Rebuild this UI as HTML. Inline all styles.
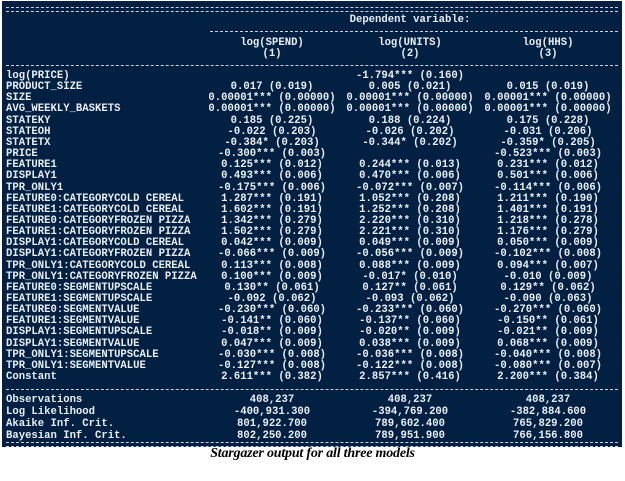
<!DOCTYPE html>
<html><head><meta charset="utf-8"><style>
body{margin:0;width:625px;height:481px;background:#fff;position:relative;overflow:hidden}
#panel{position:absolute;left:2px;top:1px;width:620px;height:446px;background:#022142;overflow:hidden}
.t{position:absolute;font-family:"Liberation Mono",monospace;font-weight:bold;font-size:10.6px;color:#e8eef5;white-space:pre;line-height:11px}
.c{transform:translateX(-50%)}
.rule{position:absolute;height:0;border-top:1px dashed #c8d2de}
.rule2{position:absolute;height:3px;border-top:1px dashed #c8d2de;border-bottom:1px dashed #c8d2de}
#cap{position:absolute;left:0;width:625px;top:446px;text-align:center;font-family:"Liberation Serif",serif;font-style:italic;font-weight:bold;font-size:14px;color:#000;letter-spacing:-0.2px}
</style></head><body>
<div id="panel">
<div class="rule2" style="left:4px;width:612px;top:6px"></div>
<div class="t c" style="left:408px;top:14px">Dependent variable:</div>
<div class="rule" style="left:208px;width:408px;top:30px"></div>
<div class="t c" style="left:270px;top:37px">log(SPEND)</div>
<div class="t c" style="left:270px;top:48px">(1)</div>
<div class="t c" style="left:408px;top:37px">log(UNITS)</div>
<div class="t c" style="left:408px;top:48px">(2)</div>
<div class="t c" style="left:546px;top:37px">log(HHS)</div>
<div class="t c" style="left:546px;top:48px">(3)</div>
<div class="rule" style="left:4px;width:612px;top:64px"></div>
<div class="rule" style="left:4px;width:612px;top:388px"></div>
<div class="rule2" style="left:4px;width:612px;top:441px"></div>
</div>
<div id="cap">Stargazer output for all three models</div>
<script>
const labels=["log(PRICE)","PRODUCT_SIZE","SIZE","AVG_WEEKLY_BASKETS","STATEKY","STATEOH","STATETX","PRICE","FEATURE1","DISPLAY1","TPR_ONLY1","FEATURE0:CATEGORYCOLD CEREAL","FEATURE1:CATEGORYCOLD CEREAL","FEATURE0:CATEGORYFROZEN PIZZA","FEATURE1:CATEGORYFROZEN PIZZA","DISPLAY1:CATEGORYCOLD CEREAL","DISPLAY1:CATEGORYFROZEN PIZZA","TPR_ONLY1:CATEGORYCOLD CEREAL","TPR_ONLY1:CATEGORYFROZEN PIZZA","FEATURE0:SEGMENTUPSCALE","FEATURE1:SEGMENTUPSCALE","FEATURE0:SEGMENTVALUE","FEATURE1:SEGMENTVALUE","DISPLAY1:SEGMENTUPSCALE","DISPLAY1:SEGMENTVALUE","TPR_ONLY1:SEGMENTUPSCALE","TPR_ONLY1:SEGMENTVALUE","Constant"];
const col1=["","0.017 (0.019)","0.00001*** (0.00000)","0.00001*** (0.00000)","0.185 (0.225)","-0.022 (0.203)","-0.384* (0.203)","-0.300*** (0.003)","0.125*** (0.012)","0.493*** (0.006)","-0.175*** (0.006)","1.287*** (0.191)","1.602*** (0.191)","1.342*** (0.279)","1.502*** (0.279)","0.042*** (0.009)","-0.066*** (0.009)","0.113*** (0.008)","0.100*** (0.009)","0.130** (0.061)","-0.092 (0.062)","-0.230*** (0.060)","-0.141** (0.060)","-0.018** (0.009)","0.047*** (0.009)","-0.030*** (0.008)","-0.127*** (0.008)","2.611*** (0.382)"];
const col2=["-1.794*** (0.160)","0.005 (0.021)","0.00001*** (0.00000)","0.00001*** (0.00000)","0.188 (0.224)","-0.026 (0.202)","-0.344* (0.202)","","0.244*** (0.013)","0.470*** (0.006)","-0.072*** (0.007)","1.052*** (0.208)","1.252*** (0.208)","2.220*** (0.310)","2.221*** (0.310)","0.049*** (0.009)","-0.056*** (0.009)","0.088*** (0.009)","-0.017* (0.010)","0.127** (0.061)","-0.093 (0.062)","-0.233*** (0.060)","-0.137** (0.060)","-0.020** (0.009)","0.038*** (0.009)","-0.036*** (0.008)","-0.122*** (0.008)","2.857*** (0.416)"];
const col3=["","0.015 (0.019)","0.00001*** (0.00000)","0.00001*** (0.00000)","0.175 (0.228)","-0.031 (0.206)","-0.359* (0.205)","-0.523*** (0.003)","0.231*** (0.012)","0.501*** (0.006)","-0.114*** (0.006)","1.211*** (0.190)","1.401*** (0.191)","1.218*** (0.278)","1.176*** (0.279)","0.050*** (0.009)","-0.102*** (0.008)","0.094*** (0.007)","-0.010 (0.009)","0.129** (0.062)","-0.090 (0.063)","-0.270*** (0.060)","-0.150** (0.061)","-0.021** (0.009)","0.068*** (0.009)","-0.040*** (0.008)","-0.080*** (0.007)","2.200*** (0.384)"];
const statLabels=["Observations","Log Likelihood","Akaike Inf. Crit.","Bayesian Inf. Crit."];
const stat1=["408,237","-400,931.300","801,922.700","802,250.200"];
const stat2=["408,237","-394,769.200","789,602.400","789,951.900"];
const stat3=["408,237","-382,884.600","765,829.200","766,156.800"];
const P=document.getElementById('panel');
const centers=[270,408,546];
function txt(s,x,y,center){const d=document.createElement('div');d.className='t'+(center?' c':'');d.style.left=x+'px';d.style.top=y+'px';d.textContent=s;P.appendChild(d);return d;}
labels.forEach((l,i)=>{
  const y=70+i*11.15;
  const a=txt(l,4,y,false);
  
  
  [col1,col2,col3].forEach((c,j)=>{ if(c[i]){const e=txt(c[i],centers[j],y,true);
    
    }});
});
statLabels.forEach((l,i)=>{
  const y=394+i*12;
  const a=txt(l,4,y,false);
  
  
  [stat1,stat2,stat3].forEach((c,j)=>{const e=txt(c[i],centers[j],y,true);
    
    });
});
</script>
</body></html>
